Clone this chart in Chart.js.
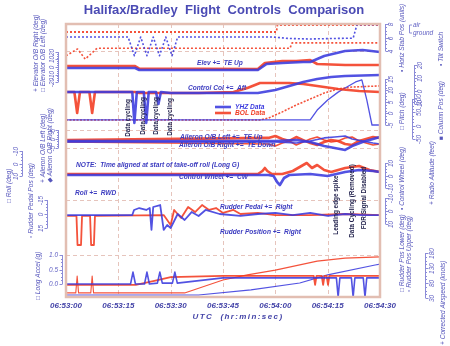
<!DOCTYPE html>
<html><head><meta charset="utf-8">
<script src="https://cdn.jsdelivr.net/npm/chart.js@4.4.1/dist/chart.umd.min.js"></script>
<style>html,body{margin:0;padding:0;background:#fff;}#wrap{width:450px;height:346px;}</style>
</head><body><div id="wrap"><canvas id="c" width="450" height="346"></canvas></div>
<script>
// ---------- DATA (time in seconds after 06:53:00) ----------
const xTickSeconds = [0, 15, 30, 45, 60, 75, 90];
const xTickLabels = ['06:53:00','06:53:15','06:53:30','06:53:45','06:54:00','06:54:15','06:54:30'];

// Tilt switch (0 = ground, 1 = air)
const tTiltBOL = [0, 60.3, 60.6, 90];
const tiltBOL  = [0, 0, 1, 1];

// Horizontal stabilizer (units)
const tStabBOL = [0, 3.3, 5.5, 8.9, 64.2, 64.8, 90];
const stabBOL  = [3.3, 4.3, 2.8, 4.4, 4.4, 5.2, 5.2];
const tStabYHZ = [0, 17.8, 19.6, 21.4, 23.2, 25.0, 26.8, 28.6, 30.4, 32.0, 59.3, 64, 70, 76, 82.3, 83.4, 90];
const stabYHZ  = [6.07, 6.07, 3.3, 6.07, 3.3, 6.07, 3.3, 6.07, 3.3, 6.07, 6.07, 5.85, 5.78, 5.85, 5.9, 7.9, 7.9];

// Elevator O/B (deg)
const tElevBOL = [0, 19.8, 21, 55, 57, 62, 66, 70, 72, 80, 90];
const elevBOL  = [1.3, 1.3, -2.0, -2.7, 5.3, 8, 8, 9.3, 4, 2.7, 2.7];
const tElevYHZ = [0, 19.8, 21, 55, 57.5, 62, 68, 70, 74, 80, 85, 90];
const elevYHZ  = [-1.3, -1.3, -4, -4, 4, 5.3, 6.7, 6.7, 14.7, 21.3, 22.7, 20];

// Control column (deg)
const tColBOL = [0, 2.4, 3.2, 4.0, 6.7, 7.5, 8.3, 19.8, 21, 38, 48, 52, 55.6, 64, 68, 72, 78, 84, 90];
const colBOL  = [-0.8, -0.8, -16.9, -0.8, -0.8, -16.9, -0.8, -0.8, -1.5, -1.5, -0.8, 2.3, 6.2, 6.2, 5.4, 3.8, 1.5, 0, -0.8];
const tColYHZ = [0, 19, 19.6, 20.3, 22.3, 23, 23.7, 25.8, 26.5, 27.2, 30, 55, 60, 64, 68, 72, 76, 80, 90];
const colYHZ  = [-0.8, -0.8, -24.6, -0.8, -0.8, -24.6, -0.8, -0.8, -10, -0.8, -1.5, -1.5, 0.8, 3.8, 7, 9.2, 10.8, 11.5, 12.3];

// Pitch (deg)
const tPitchBOL = [0, 55.6, 58, 62, 66, 70, 74, 78, 82, 90];
const pitchBOL  = [-2.8, -2.8, -2, 0.7, 3.7, 6.3, 8.9, 10.7, 11.5, 12];
const tPitchYHZ = [0, 70, 72, 75, 78, 80, 83, 84.8, 86.2, 87.7, 90];
const pitchYHZ  = [-2.8, -2.8, 1.5, 5.9, 9.3, 11.1, 13.7, 14.6, 6, -5, -5];

// Aileron O/B (deg)
const tAilBOL  = [0, 58, 60, 62, 64, 66, 68, 70, 72, 74, 76, 78, 80, 82, 84, 86, 88, 90];
const ailLBOL  = [-0.6, 0.6, 1.7, 0, -1.1, 1.1, -0.6, -2.2, -3.3, -1.7, -0.6, -1.1, -2.8, -3.3, -1.1, 0, 1.1, 0.6];
const ailRBOL  = [-1.7, -2.8, -3.9, -2.2, -1.1, -3.3, -1.7, 0, 1.1, -0.6, -1.7, -1.1, 0.6, 1.1, -1.1, -2.2, -3.3, -2.8];
const tAilYHZ  = [0, 60, 66, 70, 74, 77, 80, 82, 85, 88, 90];
const ailLYHZ  = [-1.1, -1.1, -0.6, -1.7, -3.9, -5, -6.1, -3.9, -1.7, 0, 1.1];
const ailRYHZ  = [-1.7, -1.7, -2.2, -1.1, 0.6, 1.1, 1.7, 0, -1.1, -2.2, -2.8];

// Radio altitude (feet)
const tRadBOL = [0, 62.8, 66.2, 71.6, 75, 79.4, 82];
const radBOL  = [-20, -20, 81, 242, 344, 471, 546];
const tRadYHZ = [0, 78, 82, 86, 90];
const radYHZ  = [-20, -20, -9, 6, 14];

// Control wheel (deg)
const tWheelBOL = [0, 55, 56.3, 57, 57.7, 59, 62, 65, 67, 69, 70.5, 72, 74, 76, 80, 84, 87, 90];
const wheelBOL  = [1.2, 1.2, 3.6, 6, 3.6, 1.2, 1.2, 3.6, 6.8, 10, 6, 8.4, 4.4, 2.8, 6, 7.6, 4.4, 2.8];
const tWheelYHZ = [0, 58, 59.5, 60.5, 61.3, 62.5, 64, 70, 75, 80, 84, 88, 90];
const wheelYHZ  = [0.4, 0.4, -0.4, -5.2, -7.6, -2, 0.4, 1.2, -0.4, 2.8, 4.4, 3.6, 2.8];

// Roll (deg)
const tRollBOL = [0, 64, 66, 70, 74, 78, 80, 85, 90];
const rollBOL  = [-0.4, -0.4, 0.4, 2, 4.4, 7.6, 10, 10.8, 10.8];
const tRollYHZ = [0, 65, 68, 72, 76, 80, 85, 90];
const rollYHZ  = [-1.2, -1.2, 0.4, 2.8, 5.2, 6.8, 8.4, 9.2];

// Rudder pedal position (deg)
const tPedalBOL = [0, 3.0, 3.3, 4.3, 4.6, 6.9, 7.2, 8.0, 8.3, 28, 30, 31, 33, 35, 37, 39, 41, 43, 45, 48, 50, 55, 60, 70, 80, 90];
const pedalBOL  = [2.1, 2.1, 33.2, 33.2, 2.1, 2.1, 33.2, 33.2, 2.1, 1.1, 11.8, -4.3, 4.3, -7.5, -2.1, -9.6, -4.3, -6.4, -1.1, -4.3, 0, -1.1, 1.1, 1.1, 0, 1.1];
const tPedalYHZ = [0, 19, 19.5, 21, 23, 24, 24.5, 25, 27, 28, 29, 30, 32, 34, 36, 38, 40, 44, 50, 55, 60, 65, 70, 75, 80, 85, 90];
const pedalYHZ  = [1.1, 1.1, -4.3, -6.4, -4.3, -6.4, 17.1, -7.5, -9.6, 17.1, 11.8, 15, 0, 6.4, -2.1, 2.1, -4.3, 0, 2.1, 0, -1.1, 1.1, -1.1, 2.1, 0, 1.1, 1.1];

// Rudder position (deg)
const tRposBOL = [0, 24, 27, 28.5, 30, 31, 32, 34, 36, 38, 40, 43, 46, 90];
const rposBOL  = [4.6, 6.1, 7.7, 20.8, 17.7, 23.8, 11.5, 7.7, 13.1, 6.1, 10, 6.9, 5.4, 5.4];
const tRposYHZ = [0, 20, 24, 26, 28, 29, 31, 33, 35, 37, 39, 42, 45, 50, 55, 60, 70, 78, 81.4, 82.3, 83.5, 86, 90];
const rposYHZ  = [3.8, 3.8, -2.3, -3.8, 15.4, 7.7, 17.7, 7.7, 11.5, 3.8, 7.7, 2.3, 5.4, 3.8, 5.4, 4.6, 5.4, 6.1, 6.1, 11.5, 6.1, 5.4, 4.6];

// Longitudinal acceleration (g)
const tAccelBOL = [0, 20, 25, 30, 45, 71, 71.4, 71.8, 73.3, 73.7, 74.1, 74.7, 75.1, 75.5, 90];
const accelBOL  = [-0.03, -0.03, 0.1, 0.24, 0.28, 0.28, -0.03, 0.28, 0.28, -0.03, 0.28, 0.28, -0.03, 0.28, 0.28];
const tAccelYHZ = [0, 18.5, 19.2, 19.9, 22.5, 23.2, 23.9, 26.2, 26.9, 27.6, 30.5, 31.2, 31.9, 45, 77.5, 78, 78.5, 81.8, 82.3, 82.8, 85.2, 85.7, 86.2, 90];
const accelYHZ  = [0, 0, 0.41, 0, 0, 0.41, 0, 0.03, 0.41, 0.03, 0.03, 0.41, 0.03, 0.21, 0.21, -0.45, 0.21, 0.21, -0.45, 0.21, 0.21, -0.45, 0.21, 0.21];

// Corrected airspeed (knots)
const tAsBOL = [0, 2.8, 3.2, 3.6, 7.1, 7.5, 7.9, 34, 45, 52, 60, 72, 80, 90];
const asBOL  = [47, 47, 103, 47, 47, 103, 47, 47, 90, 107, 123, 153, 163, 167];
const tAsYHZ = [0, 38, 53, 67, 75, 88.6, 90];
const asYHZ  = [40, 40, 57, 80, 107, 140, 143];

// ---------- LAYOUT / STYLE ----------
const PLOT = {left: 66, top: 24, right: 380, bottom: 297};
const RED = 'rgba(242,58,32,0.88)';
const BLUE = 'rgba(58,58,222,0.88)';
const TXT = '#4a4ab4';
const AXC = '#8c8cd8';
const FONT = '"Liberation Sans", Arial, sans-serif';

const axes = [
  {id:'elev',  ticks:[20,10,0,-10,-20], top:52, bottom:82, bx:58, lx:52, side:'L',
   titles:[['+ Elevator O/B Right (deg)',36,92],['\u25A1 Elevator O/B Left (deg)',43,92]]},
  {id:'ail',   ticks:[5,0,-5], top:130, bottom:148, bx:58, lx:53, side:'L',
   titles:[['+ Aileron O/B Left (deg)',43,183],['\u25C6 Aileron O/B Right (deg)',50,183]]},
  {id:'roll',  ticks:[-10,0,10], top:175, bottom:200, bx:22, lx:16, side:'L',
   titles:[['\u25A1 Roll (deg)',9,203]]},
  {id:'pedal', ticks:[-15,0,15], top:200, bottom:228, bx:47, lx:41, side:'L',
   titles:[['\u25AB Rudder Pedal Pos (deg)',31,238]]},
  {id:'accel', ticks:[1.0,0.5,0.0], top:255, bottom:284, bx:62, lx:58, side:'L', flat:true, fmt:v=>v.toFixed(1),
   titles:[['\u25A1 Long Accel (g)',38,300]]},
  {id:'stab',  ticks:[8,6,4], top:24, bottom:51, bx:385, lx:391, side:'R',
   titles:[['\u2022 Horiz Stab Pos (units)',402,72]]},
  {id:'tilt',  ticks:[1,0], top:25, bottom:32, side:'R', tilt:true,
   titles:[['\u2022 Tilt Switch',441,66]]},
  {id:'pitch', ticks:[15,10,5,0,-5], top:79, bottom:125, bx:385, lx:391, side:'R',
   titles:[['\u25A1 Pitch (deg)',402,130]]},
  {id:'col',   ticks:[20,10,0,-10], top:65, bottom:104, bx:414, lx:420, side:'R',
   titles:[['\u25A0 Column Pos (deg)',441,140]]},
  {id:'rad',   ticks:[100,50,0,-50], top:123, bottom:163, bx:412, lx:419, side:'R',
   titles:[['+ Radio Altitude (feet)',432,205]]},
  {id:'wheel', ticks:[10,0,-10], top:163, bottom:188, bx:385, lx:391, side:'R',
   titles:[['\u2022 Control Wheel (deg)',402,210]]},
  {id:'rpos',  ticks:[-10,0,10], top:222, bottom:248, bx:385, lx:391, side:'R',
   titles:[['\u25A1 Rudder Pos Lower (deg)',402,292],['\u25AB Rudder Pos Upper (deg)',409,292]]},
  {id:'as',    ticks:[180,130,80,30], top:253, bottom:298, bx:425, lx:432, side:'R',
   titles:[['+ Corrected Airspeed (knots)',443,345]]}
];

function scaleFor(a){
  const v1 = a.ticks[0], v2 = a.ticks[a.ticks.length-1];
  const k = (v1 - v2) / (a.bottom - a.top);
  const vTop = v1 + (a.top - PLOT.top) * k;
  const vBot = v2 - (PLOT.bottom - a.bottom) * k;
  return k > 0 ? {type:'linear', display:false, min:vBot, max:vTop}
               : {type:'linear', display:false, min:vTop, max:vBot, reverse:true};
}
const scales = {x:{type:'linear', display:false, min:0, max:90}};
axes.forEach(a => { scales[a.id] = scaleFor(a); });

function pts(t, v){ return t.map((x,i)=>({x:x, y:v[i]})); }
function ds(t, v, axis, color, w, dash){
  return {data:pts(t,v), yAxisID:axis, borderColor:color, borderWidth:w, borderDash:dash||[],
          pointRadius:0, tension:0, fill:false, clip:1, borderJoinStyle:'round'};
}
const THICK = 2.6, THIN = 1.1;
const datasets = [
  ds(tStabYHZ, stabYHZ, 'stab', BLUE, 1.6, [2,2]),
  ds(tTiltBOL, tiltBOL, 'tilt', RED, 1.8, [2,2]),
  ds(tStabBOL, stabBOL, 'stab', RED, 1.6, [2,2]),
  ds(tElevYHZ, elevYHZ, 'elev', BLUE, THICK),
  ds(tElevBOL, elevBOL, 'elev', RED, THICK),
  ds(tColYHZ, colYHZ, 'col', BLUE, THICK),
  ds(tColBOL, colBOL, 'col', RED, THICK),
  ds(tPitchYHZ, pitchYHZ, 'pitch', BLUE, 1.3),
  ds(tPitchBOL, pitchBOL, 'pitch', RED, 1.6, [2,1.5]),
  ds(tAilYHZ, ailLYHZ, 'ail', BLUE, THICK),
  ds(tAilYHZ, ailRYHZ, 'ail', BLUE, 1.6),
  ds(tAilBOL, ailLBOL, 'ail', RED, THICK),
  ds(tAilBOL, ailRBOL, 'ail', RED, 1.6),
  ds(tRadYHZ, radYHZ, 'rad', BLUE, 1.3, [2,2]),
  ds(tRadBOL, radBOL, 'rad', RED, THIN),
  ds(tWheelYHZ, wheelYHZ, 'wheel', BLUE, THICK),
  ds(tWheelBOL, wheelBOL, 'wheel', RED, THICK),
  ds(tRollYHZ, rollYHZ, 'roll', BLUE, THICK),
  ds(tRollBOL, rollBOL, 'roll', RED, THICK),
  ds(tPedalYHZ, pedalYHZ, 'pedal', BLUE, 1.8),
  ds(tPedalBOL, pedalBOL, 'pedal', RED, 1.8),
  ds(tRposYHZ, rposYHZ, 'rpos', BLUE, 1.8),
  ds(tRposBOL, rposBOL, 'rpos', RED, 1.8),
  ds(tAccelYHZ, accelYHZ, 'accel', BLUE, 1.6),
  ds(tAccelBOL, accelBOL, 'accel', RED, 1.8),
  ds(tAsYHZ, asYHZ, 'as', BLUE, THIN),
  ds(tAsBOL, asBOL, 'as', RED, THIN)
];

const notes = [
  ['Elev +=  TE Up', 197, 63],
  ['Control Col +=  Aft', 188, 88],
  ['Aileron O/B Left +=  TE Up', 180, 137],
  ['Aileron O/B Right +=  TE Down', 179, 145],
  ['NOTE:  Time aligned at start of take-off roll (Long G)', 76, 165],
  ['Control Wheel +=  CW', 179, 177],
  ['Roll +=  RWD', 75, 193],
  ['Rudder Pedal +=  Right', 220, 207],
  ['Rudder Position +=  Right', 220, 232]
];
const vnotes = [
  ['Data cycling', 128, 118], ['Data cycling', 143, 116], ['Data cycling', 156, 116], ['Data cycling', 170, 117],
  ['Leading edge spike', 336, 205], ['Data Cycling (Removed)', 352, 201], ['FDR Signal Disabled', 364, 198]
];
const hGrid = [['stab',4],['ail',5],['ail',-5],['pedal',-15],['accel',1.0]];

function rotText(ctx, text, x, y, align){
  ctx.save(); ctx.translate(x, y); ctx.rotate(-Math.PI/2);
  ctx.textAlign = align; ctx.textBaseline = 'middle'; ctx.fillText(text, 0, 0); ctx.restore();
}

const deco = {
  id:'deco',
  beforeDraw(chart){
    const c = chart.ctx; c.save(); c.fillStyle = '#fff'; c.fillRect(0,0,chart.width,chart.height); c.restore();
  },
  beforeDatasetsDraw(chart){
    const c = chart.ctx, ca = chart.chartArea, xs = chart.scales.x;
    c.save();
    c.strokeStyle = '#e6c4bc'; c.lineWidth = 1; c.setLineDash([4,3]);
    xTickSeconds.slice(1,-1).forEach(t => {
      const x = Math.round(xs.getPixelForValue(t)) + 0.5;
      c.beginPath(); c.moveTo(x, ca.top); c.lineTo(x, ca.bottom); c.stroke();
    });
    hGrid.forEach(([id,v]) => {
      const y = Math.round(chart.scales[id].getPixelForValue(v)) + 0.5;
      c.beginPath(); c.moveTo(ca.left, y); c.lineTo(ca.right, y); c.stroke();
    });
    c.restore();
  },
  afterDatasetsDraw(chart){
    const c = chart.ctx, ca = chart.chartArea;
    c.save();
    c.strokeStyle = '#e2beb2'; c.lineWidth = 2.5;
    c.strokeRect(ca.left, ca.top, ca.right - ca.left, ca.bottom - ca.top);
    c.fillStyle = '#3c3cc0'; c.font = 'italic bold 6.6px ' + FONT; c.textBaseline = 'middle'; c.textAlign = 'left';
    notes.forEach(([s,x,y]) => c.fillText(s, x, y));
    c.fillStyle = '#23234e'; c.font = 'bold 6.4px ' + FONT;
    vnotes.forEach(([s,x,y]) => rotText(c, s, x, y, 'center'));
    c.lineWidth = 2.6;
    c.strokeStyle = BLUE; c.beginPath(); c.moveTo(215,107); c.lineTo(231,107); c.stroke();
    c.strokeStyle = RED;  c.beginPath(); c.moveTo(215,113); c.lineTo(231,113); c.stroke();
    c.font = 'italic bold 6.6px ' + FONT;
    c.fillStyle = '#3a3ade'; c.fillText('YHZ Data', 235, 107);
    c.fillStyle = '#f03a20'; c.fillText('BOL Data', 235, 113);
    c.restore();
  },
  afterDraw(chart){
    const c = chart.ctx, xs = chart.scales.x;
    c.save();
    c.fillStyle = TXT; c.font = 'bold 13px ' + FONT; c.textAlign = 'center'; c.textBaseline = 'middle';
    c.fillText('Halifax/Bradley  Flight  Controls  Comparison', 224, 10);
    c.font = 'italic bold 8px ' + FONT; c.fillStyle = '#4444a8';
    xTickSeconds.forEach((t,i) => c.fillText(xTickLabels[i], xs.getPixelForValue(t), 306));
    c.letterSpacing = '1.4px';
    c.fillText('UTC  (hr:min:sec)', 238, 317);
    c.letterSpacing = '0px';
    axes.forEach(a => {
      const sc = chart.scales[a.id];
      c.strokeStyle = AXC; c.fillStyle = '#6262c4'; c.lineWidth = 1;
      if (a.tilt) {
        const yA = sc.getPixelForValue(1), yG = sc.getPixelForValue(0);
        c.beginPath(); c.moveTo(412, yA); c.lineTo(409.5, yA); c.lineTo(409.5, yG+1); c.lineTo(412, yG+1); c.stroke();
        c.font = 'italic 6.5px ' + FONT; c.textAlign = 'left';
        c.fillText('air', 413, yA); c.fillText('ground', 413, yG + 1);
      } else {
        const dir = a.side === 'L' ? -1 : 1;
        const y0 = sc.getPixelForValue(a.ticks[0]), y1 = sc.getPixelForValue(a.ticks[a.ticks.length-1]);
        const bx = a.bx + 0.5;
        c.beginPath(); c.moveTo(bx, y0); c.lineTo(bx, y1); c.stroke();
        for (let i = 0; i < a.ticks.length - 1; i++) {
          for (let j = 1; j < 4; j++) {
            const v = a.ticks[i] + (a.ticks[i+1]-a.ticks[i]) * j / 4;
            const y = Math.round(sc.getPixelForValue(v)) + 0.5;
            c.beginPath(); c.moveTo(bx, y); c.lineTo(bx + dir*1.5, y); c.stroke();
          }
        }
        c.font = 'italic 6.5px ' + FONT;
        a.ticks.forEach(v => {
          const y = Math.round(sc.getPixelForValue(v)) + 0.5;
          c.beginPath(); c.moveTo(bx, y); c.lineTo(bx + dir*3, y); c.stroke();
          const s = a.fmt ? a.fmt(v) : String(v);
          if (a.flat) { c.textAlign = 'right'; c.textBaseline = 'middle'; c.fillText(s, a.lx, y); }
          else rotText(c, s, a.lx, y, 'center');
        });
      }
      c.fillStyle = '#5656bc'; c.font = 'italic 6.6px ' + FONT;
      a.titles.forEach(([s,x,y]) => rotText(c, s, x, y, 'left'));
    });
    c.restore();
  }
};

new Chart(document.getElementById('c'), {
  type:'line',
  data:{datasets},
  options:{
    responsive:false, animation:false, devicePixelRatio:1,
    layout:{padding:{left:PLOT.left, top:PLOT.top, right:450-PLOT.right, bottom:346-PLOT.bottom}},
    scales,
    plugins:{legend:{display:false}, tooltip:{enabled:false}, title:{display:false}},
    elements:{line:{capBezierPoints:false}}
  },
  plugins:[deco]
});
</script></body></html>
